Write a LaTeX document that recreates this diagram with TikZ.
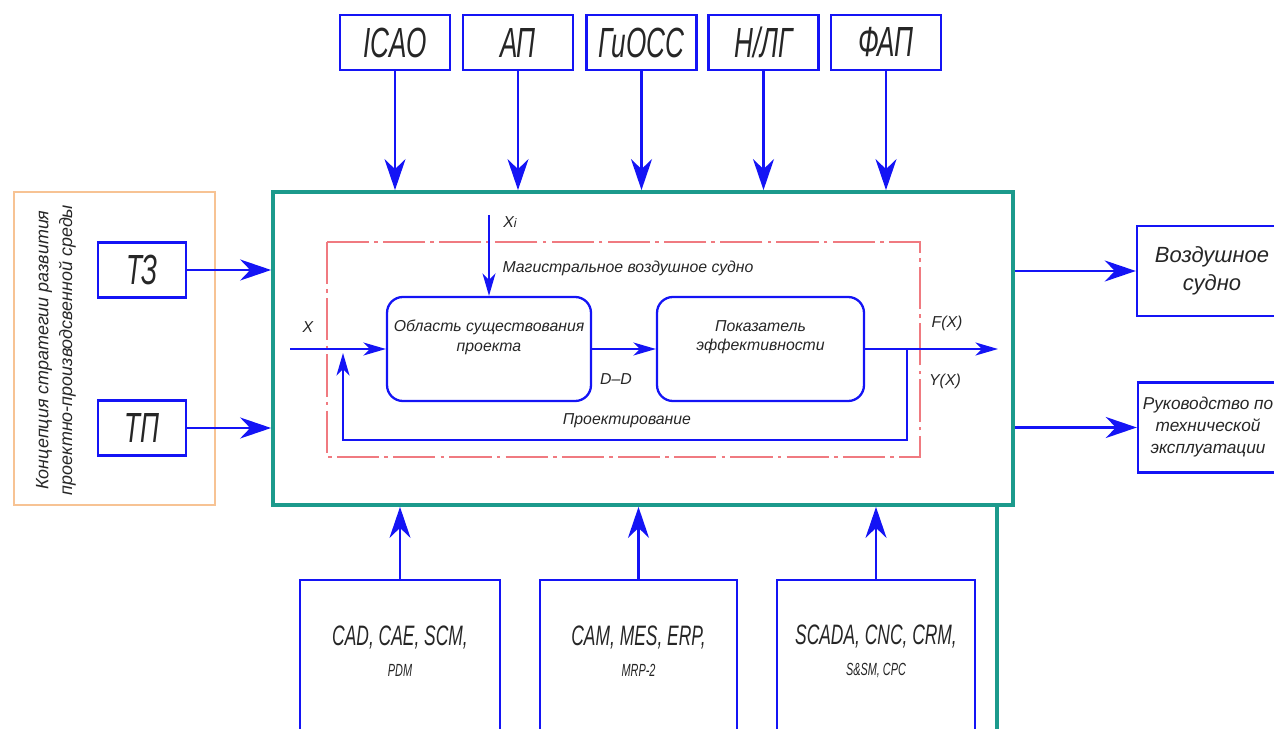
\documentclass[tikz,border=0pt]{standalone}
\usepackage{fontspec}
\setmainfont{Liberation Sans}
\newfontfamily\gostnarrow{Liberation Sans}[FakeStretch=0.62]
\usetikzlibrary{arrows.meta,positioning,calc}
\definecolor{schBlue}{HTML}{1414F5}
\definecolor{schTeal}{HTML}{1C9A8C}
\definecolor{schOrange}{HTML}{F7C394}
\definecolor{schRed}{HTML}{F07A80}

\begin{document}
\begin{tikzpicture}[x=0.02cm,y=-0.02cm,
    font=\itshape\fontsize{9}{11}\selectfont,text=black!85,
    srcbox/.style={draw=schBlue,line width=1.4pt,fill=white,inner sep=0pt,
                   minimum width=2.2cm,minimum height=1.1cm,
                   font=\gostnarrow\itshape\fontsize{24}{26}\selectfont},
    outbox/.style={draw=schBlue,line width=1.4pt,fill=white,inner sep=0pt,
                   align=center,minimum height=1.8cm},
    sysbox/.style={draw=schBlue,line width=1.4pt,fill=white,
                   minimum width=4.0cm,minimum height=3.6cm},
    systext/.style={align=center,
                    font=\gostnarrow\itshape\fontsize{16}{24}\selectfont},
    procbox/.style={draw=schBlue,line width=1.3pt,rounded corners=9pt,
                    align=center,minimum height=2.08cm},
    frame/.style={draw=schTeal,line width=2.2pt,
                  minimum width=14.8cm,minimum height=6.26cm},
    bigflow/.style={draw=schBlue,line width=1.4pt,
                    -{Stealth[length=0.62cm,width=0.42cm,inset=0.2cm]}},
    flow/.style={draw=schBlue,line width=1.1pt,
                 -{Stealth[length=0.45cm,width=0.26cm,inset=0.13cm]}}]
  \clip (0,0) rectangle (1274,729);

  \node[draw=schOrange,line width=0.9pt,minimum width=4.02cm,
        minimum height=6.26cm] (concept) at (114.5,348.5) {};
  \node[rotate=90,align=center,font=\itshape\fontsize{10.2}{13.5}\selectfont]
    (concepttxt) at (56,350)
    {Концепция стратегии развития\\проектно-производсвенной среды};
  \node[srcbox,minimum width=1.76cm] (tz) at (142,270) {ТЗ};
  \node[srcbox,minimum width=1.76cm] (tp) at (142,428) {ТП};

  \node[frame] (main) at (643,348.5) {};
  \draw[schTeal,line width=2.2pt] ([xshift=-0.36cm]main.south east) -- ++(0,260);

  \node[srcbox] (icao) at (395,42.5) {ICAO};
  \node[srcbox] (ap) at (518,42.5) {АП};
  \node[srcbox] (giocc) at (641.5,42.5) {ГиОСС};
  \node[srcbox] (nlg) at (763.5,42.5) {Н/ЛГ};
  \node[srcbox] (fap) at (886,42.5) {ФАП};

  \draw[bigflow] (icao) -- (icao |- main.north);
  \draw[bigflow] (ap) -- (ap |- main.north);
  \draw[bigflow] (giocc) -- (giocc |- main.north);
  \draw[bigflow] (nlg) -- (nlg |- main.north);
  \draw[bigflow] (fap) -- (fap |- main.north);
  \draw[bigflow] (tz) -- (tz -| main.west);
  \draw[bigflow] (tp) -- (tp -| main.west);

  \draw[schRed,line width=0.7pt,dash pattern=on 24pt off 3pt on 2pt off 3pt]
    (327,242) rectangle (920,457);
  \node (scopetxt) at (628,268) {Магистральное воздушное судно};

  \node[procbox,minimum width=4.08cm] (obl) at (489,349)
    {Область существования\\проекта\\[4pt]};
  \node[procbox,minimum width=4.14cm] (pok) at (760.5,349)
    {Показатель\\эффективности\\[4pt]};

  \coordinate (xi) at (489,215);
  \coordinate (xin) at (290,349);
  \coordinate (fout) at (998,349);
  \coordinate (fb) at (907,349);
  \coordinate (fbl) at (343,440);
  \coordinate (fbin) at (343,353);
  \draw[flow] (xi) -- (obl.north);
  \draw[flow] (xin) -- (obl.west);
  \draw[flow] (obl.east) -- (pok.west);
  \draw[flow] (pok.east) -- (fout);
  \draw[flow] (fb) |- (fbl) -- (fbin);

  \node (xitxt) at (510,222) {X{\scriptsize i}};
  \node (xtxt) at (308,327) {X};
  \node (ddtxt) at (616,379) {D–D};
  \node (fxtxt) at (947,323) {F(X)};
  \node (yxtxt) at (945,381) {Y(X)};
  \node (designtxt) at (627,421) {Проектирование};

  \node[outbox,minimum width=3.0cm,font=\itshape\fontsize{12.5}{16}\selectfont]
    (aircraft) at (1212,271) {Воздушное\\судно};
  \node[outbox,minimum width=2.8cm,font=\itshape\fontsize{9.8}{12.5}\selectfont]
    (manual) at (1208,427.5) {Руководство по\\технической\\эксплуатации};
  \draw[bigflow] (main.east |- aircraft) -- (aircraft.west);
  \draw[bigflow] (main.east |- manual) -- (manual.west);

  \node[sysbox] (cad) at (400,670) {};
  \node[sysbox,minimum width=3.94cm] (cam) at (638.5,670) {};
  \node[sysbox,minimum width=3.96cm] (scada) at (876,670) {};
  \node[systext] (cadtxt) at ([yshift=-1.45cm]cad.north)
    {CAD, CAE, SCM,\\[-6pt]{\fontsize{10}{12}\selectfont PDM}};
  \node[systext] (camtxt) at ([yshift=-1.45cm]cam.north)
    {CAM, MES, ERP,\\[-6pt]{\fontsize{10}{12}\selectfont MRP-2}};
  \node[systext] (scadatxt) at ([yshift=-1.45cm]scada.north)
    {SCADA, CNC, CRM,\\[-6pt]{\fontsize{10}{12}\selectfont S\&SM, CPC}};
  \draw[bigflow] (cad.north) -- (cad.north |- main.south);
  \draw[bigflow] (cam.north) -- (cam.north |- main.south);
  \draw[bigflow] (scada.north) -- (scada.north |- main.south);
\end{tikzpicture}
\end{document}
